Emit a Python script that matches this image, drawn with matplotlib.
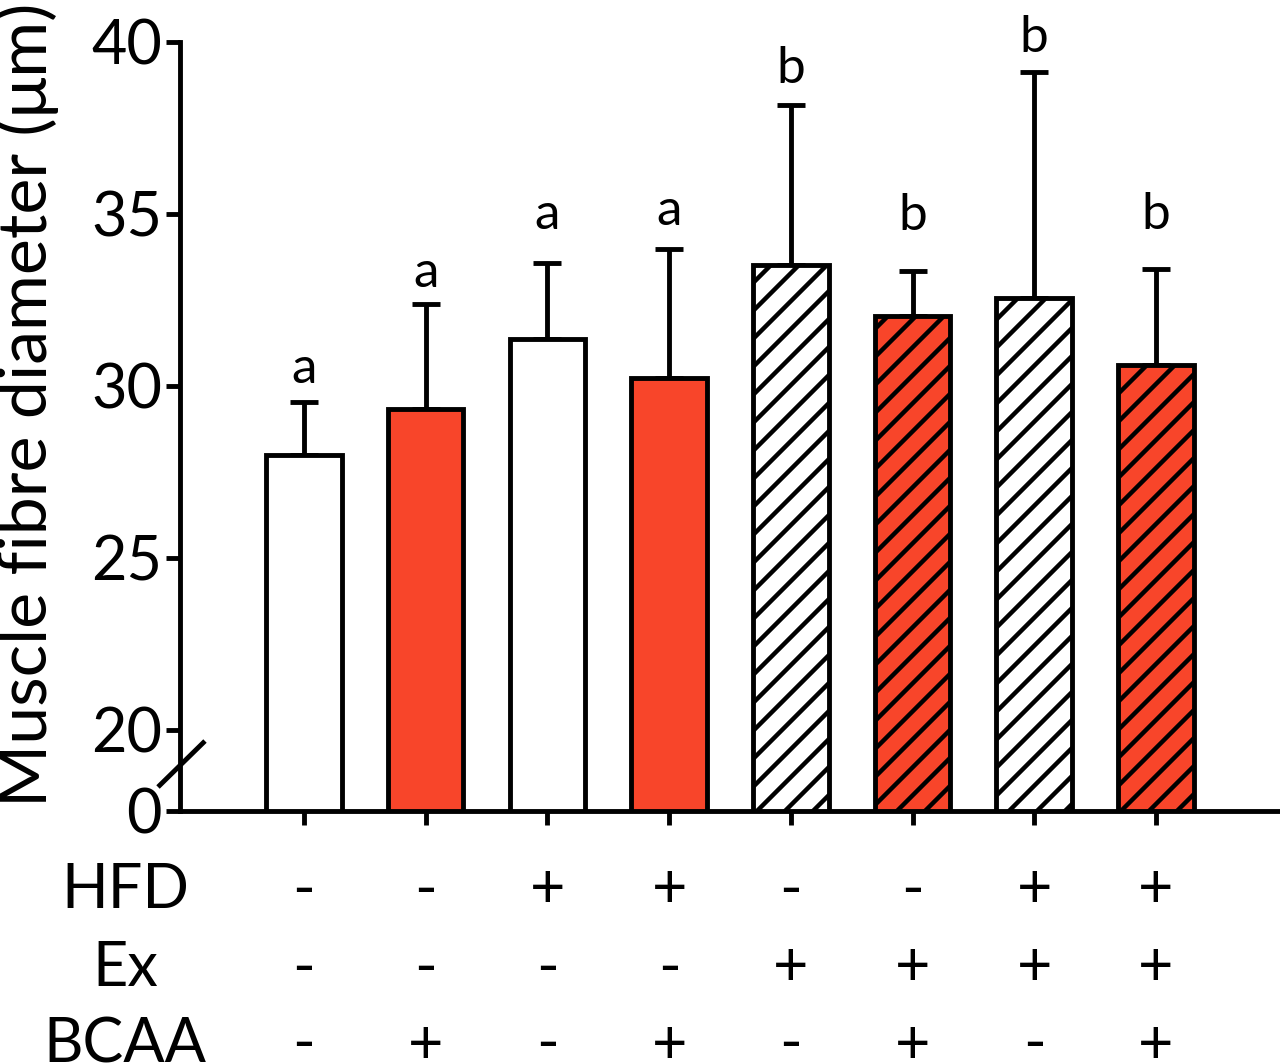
import matplotlib
matplotlib.use("Agg")
import matplotlib.pyplot as plt
import numpy as np

# ---- data ----
means = [28.0, 29.33, 31.37, 30.23, 33.52, 32.03, 32.56, 30.61]
err_tops = [29.53, 32.38, 33.58, 33.98, 38.17, 33.34, 39.13, 33.40]
letters = ['a', 'a', 'a', 'a', 'b', 'b', 'b', 'b']
letter_y = [30.09, 32.88, 34.56, 34.68, 38.81, 34.53, 39.71, 34.56]
colors = ['white', '#F8452A', 'white', '#F8452A', 'white', '#F8452A', 'white', '#F8452A']
hatches = ['', '', '', '', '/', '/', '/', '/']
hfd = ['-', '-', '+', '+', '-', '-', '+', '+']
ex = ['-', '-', '-', '-', '+', '+', '+', '+']
bcaa = ['-', '+', '-', '+', '-', '+', '-', '+']
row_labels = ['HFD', 'Ex', 'BCAA']
ytick_vals = [20, 25, 30, 35, 40]
ylabel = 'Muscle fibre diameter (μm)'

DPI = 84
S = 100 / DPI  # sizes below are given as if rendered at 100 dpi

plt.rcParams['font.family'] = ['Lato', 'DejaVu Sans']
plt.rcParams['hatch.linewidth'] = 3.2 * S

W, H = 1280, 1063
fig = plt.figure(figsize=(W / DPI, H / DPI), dpi=DPI)
ax_left, ax_right, ax_bot_px, ax_top_px = 180, 1280, 811, 42
ax = fig.add_axes([ax_left / W, (H - ax_bot_px) / H, (ax_right - ax_left) / W,
                   (ax_bot_px - ax_top_px) / H])

x = np.arange(len(means))
ybottom = 20 - 81 / 34.4  # broken axis: '0' drawn at this position
lw = 3.5 * S
for i in range(len(means)):
    ax.bar(x[i], means[i], width=0.62, bottom=0, color=colors[i], edgecolor='black',
           linewidth=lw, hatch=hatches[i], zorder=2)
    ax.errorbar(x[i], means[i], yerr=[[0], [err_tops[i] - means[i]]], fmt='none',
                ecolor='black', elinewidth=lw, capsize=10 * S, capthick=lw, zorder=1)
    ax.text(x[i], letter_y[i], letters[i], ha='center', va='baseline', fontsize=37 * S)

spacing = 121.7
ax.set_xlim(-124 / spacing, -124 / spacing + (ax_right - ax_left) / spacing)
ax.set_ylim(ybottom, 40)
ax.set_yticks([ybottom] + ytick_vals)
ax.set_yticklabels(['0'] + [str(v) for v in ytick_vals], fontsize=44 * S)
ax.set_xticks(x)
ax.set_xticklabels([])
ax.tick_params(axis='both', width=lw, length=10 * S, pad=3 * S)
for s in ['top', 'right']:
    ax.spines[s].set_visible(False)
for s in ['left', 'bottom']:
    ax.spines[s].set_linewidth(lw)

# axis break mark
ax.plot([-0.02, 0.0227], [0.0312, 0.091], transform=ax.transAxes, color='black',
        lw=lw, clip_on=False, solid_capstyle='butt')

# y label
ax.text((27 - ax_left) / (ax_right - ax_left), (H - 405 - (H - ax_bot_px)) / (ax_bot_px - ax_top_px),
        ylabel, transform=ax.transAxes, rotation=90, ha='center', va='center', fontsize=49 * S)

# condition table under the axis
row_y_px = [890, 968, 1045]
rows = [hfd, ex, bcaa]
for lab, ypx, vals in zip(row_labels, row_y_px, rows):
    yax = (H - ypx - (H - ax_bot_px)) / (ax_bot_px - ax_top_px)
    ax.text((125 - ax_left) / (ax_right - ax_left), yax, lab, transform=ax.transAxes,
            ha='center', va='center', fontsize=44 * S, clip_on=False)
    for i, v in enumerate(vals):
        ax.text(x[i], yax, v, transform=ax.get_xaxis_transform(), ha='center',
                va='center', fontsize=44 * S, clip_on=False)

fig.savefig('out.png', dpi=DPI)
